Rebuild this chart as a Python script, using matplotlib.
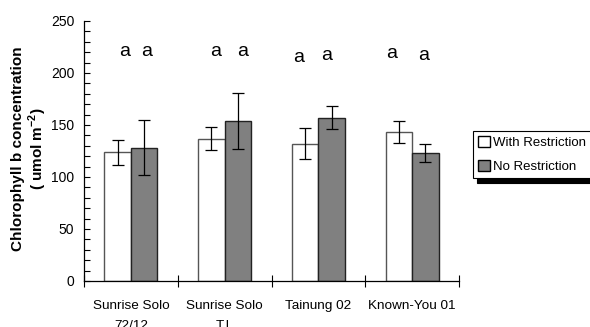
import matplotlib
matplotlib.use("Agg")
import matplotlib.pyplot as plt
import numpy as np
from matplotlib.ticker import MultipleLocator

plt.rcParams['font.family'] = ['Liberation Sans', 'DejaVu Sans']
plt.rcParams['mathtext.fontset'] = 'custom'
plt.rcParams['mathtext.rm'] = 'Liberation Sans'
plt.rcParams['mathtext.bf'] = 'Liberation Sans:bold'

categories = ["Sunrise Solo\n72/12", "Sunrise Solo\nT.I.", "Tainung 02", "Known-You 01"]
with_restriction = [124, 137, 132, 143.5]
with_err = [12, 11, 15, 10.5]
no_restriction = [128, 153.5, 157, 123]
no_err = [26.5, 27, 11, 9]
letters_with = ["a", "a", "a", "a"]
letters_no = ["a", "a", "a", "a"]
letter_y_with = [216, 216, 211, 214]
letter_y_no = [216, 216, 212.5, 212.5]
letter_dx_with = [0.07, 0.04, -0.07, -0.075]
letter_dx_no = [0.025, 0.045, -0.05, -0.02]

fig = plt.figure(figsize=(5.9, 3.27), dpi=100)
ax = fig.add_axes([0.1424, 0.1407, 0.6356, 0.7951])

x = np.arange(len(categories))
w = 0.283
ekw = dict(ecolor='black', elinewidth=0.9, capsize=4, capthick=0.9)
ax.bar(x - w/2, with_restriction, w, color='white', edgecolor='#555555', linewidth=1.0,
       yerr=with_err, error_kw=ekw, label='With Restriction', zorder=2)
ax.bar(x + w/2, no_restriction, w, color='#808080', edgecolor='#222222', linewidth=1.0,
       yerr=no_err, error_kw=ekw, label='No Restriction', zorder=2)

for i in range(len(categories)):
    ax.text(x[i] - w/2 + letter_dx_with[i], letter_y_with[i], letters_with[i],
            ha='center', va='baseline', fontsize=14)
    ax.text(x[i] + w/2 + letter_dx_no[i], letter_y_no[i], letters_no[i],
            ha='center', va='baseline', fontsize=14)

ax.set_xlim(-0.5, len(categories) - 0.5)
ax.set_ylim(0, 250)
ax.yaxis.set_major_locator(MultipleLocator(50))
ax.yaxis.set_minor_locator(MultipleLocator(10))
ax.tick_params(axis='y', which='major', direction='in', length=4, width=0.8, labelsize=10, pad=7)
ax.tick_params(axis='y', which='minor', direction='in', length=4, width=0.8)

ax.set_xticks(x)
ax.set_xticklabels(categories, fontsize=9.7, linespacing=1.85)
ax.tick_params(axis='x', which='major', length=0, pad=14)
ax.set_xticks(np.arange(len(categories) + 1) - 0.5, minor=True)
ax.tick_params(axis='x', which='minor', direction='inout', length=9, width=0.8)

for s in ['top', 'right']:
    ax.spines[s].set_visible(False)
ax.spines['left'].set_linewidth(0.9)
ax.spines['bottom'].set_linewidth(0.9)

fig.text(18.5/590, 1 - 148.5/327, "Chlorophyll b concentration", rotation=90,
         ha='center', va='center', fontsize=11, fontweight='bold')
fig.text(38/590, 1 - 149/327, "( umol m$^{\\mathbf{-2}}$)", rotation=90,
         ha='center', va='center', fontsize=11, fontweight='bold')

leg = fig.legend(loc='upper left', bbox_to_anchor=(473/590, 1 - 131/327), fontsize=9.5,
                 frameon=True, fancybox=False,
                 shadow={'color': 'black', 'alpha': 1.0, 'ox': 3, 'oy': -4},
                 handlelength=0.9, handleheight=0.9,
                 handletextpad=0.2, borderpad=0.38, labelspacing=0.8, borderaxespad=0)
leg.get_frame().set_edgecolor('black')
leg.get_frame().set_linewidth(0.8)
for h in leg.legend_handles:
    h.set_edgecolor('black')

fig.savefig("out.png", dpi=100)
